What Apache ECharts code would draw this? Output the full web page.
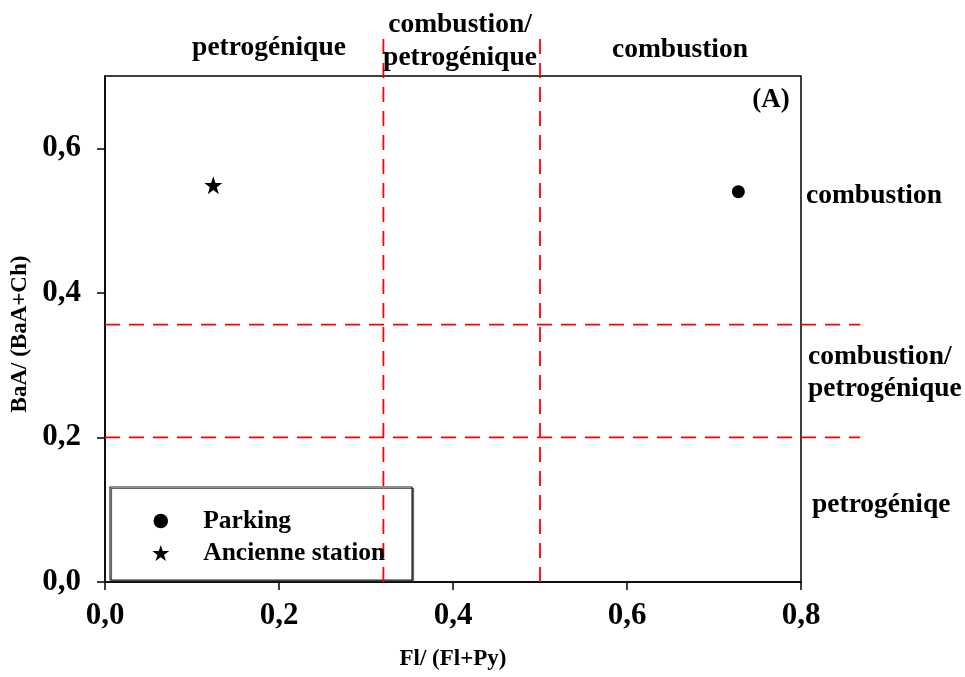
<!DOCTYPE html>
<html><head><meta charset="utf-8">
<script src="https://cdn.jsdelivr.net/npm/echarts@6/dist/echarts.min.js"></script>
<style>html,body{margin:0;padding:0;background:#fff}#c{width:965px;height:677px}</style>
</head><body><div id="c"></div>
<script>
// ---- data ----
const seriesNames = ['Parking', 'Ancienne station'];
const parking = [[0.728, 0.54]];
const ancienneStation = [[0.1245, 0.549]];
const xTicks = [0, 0.2, 0.4, 0.6, 0.8];
const yTicks = [0, 0.2, 0.4, 0.6];
const xRange = [0, 0.8];
const yRange = [0, 0.7];
const vThresholds = [0.32, 0.5];      // Fl/(Fl+Py)
const hThresholds = [0.356, 0.2];     // BaA/(BaA+Ch)
const vLineYExtent = [0, 0.752];
const hLineXExtent = [0, 0.868];
const xTitle = 'Fl/ (Fl+Py)';
const yTitle = 'BaA/ (BaA+Ch)';

const FONT = '"Liberation Serif","Times New Roman",serif';
const STAR = 'path://M50 0L61.2 34.5L97.6 34.5L68.2 55.9L79.4 90.5L50 69.1L20.6 90.5L31.8 55.9L2.4 34.5L38.8 34.5Z';
const fmt = v => v.toFixed(1).replace('.', ',');
const red = '#ff0000';
const dashStyle = {stroke: red, lineWidth: 1.8, lineDash: [15, 9], fill: null};

function txt(text, x, y, align, size) {
  return {type: 'text', x: x, y: y, z: 10,
    style: {text: text, font: 'bold ' + size + 'px ' + FONT, fill: '#000',
      textAlign: align, textVerticalAlign: 'middle'}};
}

const chart = echarts.init(document.getElementById('c'));
chart.setOption({
  animation: false,
  backgroundColor: '#fff',
  grid: {left: 105, right: 164, top: 76, bottom: 95, show: true, borderColor: '#000', borderWidth: 1.5, backgroundColor: 'transparent'},
  xAxis: {
    type: 'value', min: xRange[0], max: xRange[1], interval: 0.2,
    name: xTitle, nameLocation: 'middle', nameGap: 66,
    nameTextStyle: {fontFamily: FONT, fontWeight: 'bold', fontSize: 23, color: '#000'},
    axisLine: {lineStyle: {color: '#000', width: 1.5}},
    axisTick: {show: true, inside: false, length: 8, lineStyle: {color: '#000', width: 1.5}, customValues: xTicks},
    axisLabel: {customValues: xTicks, formatter: fmt, margin: 18, fontFamily: FONT, fontWeight: 'bold', fontSize: 31, color: '#000'},
    splitLine: {show: false}
  },
  yAxis: {
    type: 'value', min: yRange[0], max: yRange[1], interval: 0.2,
    name: yTitle, nameLocation: 'middle', nameGap: 71,
    nameTextStyle: {fontFamily: FONT, fontWeight: 'bold', fontSize: 23, color: '#000', padding: [0, 10, 0, 0]},
    axisLine: {lineStyle: {color: '#000', width: 1.5}},
    axisTick: {show: true, inside: false, length: 8, lineStyle: {color: '#000', width: 1.5}, customValues: yTicks},
    axisLabel: {customValues: yTicks, formatter: fmt, margin: 24, fontFamily: FONT, fontWeight: 'bold', fontSize: 31, color: '#000'},
    splitLine: {show: false}
  },
  legend: {
    orient: 'vertical', left: 146, top: 502, itemGap: 4, itemWidth: 17, itemHeight: 17,
    data: [{name: seriesNames[0], icon: 'circle', itemStyle: {color: '#000', borderColor: '#fff', borderWidth: 2.5}}, {name: seriesNames[1], icon: STAR}],
    textStyle: {fontFamily: FONT, fontWeight: 'bold', fontSize: 25.5, color: '#000', lineHeight: 28, padding: [0, 0, 0, 29]},
    itemStyle: {color: '#000', opacity: 1}
  },
  graphic: [
    {type: 'rect', z: 0, shape: {x: 110, y: 487, width: 302, height: 93},
      style: {fill: '#fff', stroke: '#222', lineWidth: 1.2, shadowColor: '#666', shadowOffsetX: 1.5, shadowOffsetY: 1.5}},
    txt('petrogénique', 269, 48, 'center', 27.5),
    txt('combustion/', 460, 25, 'center', 27.5),
    txt('petrogénique', 460, 58, 'center', 27.5),
    txt('combustion', 680, 50, 'center', 27.5),
    txt('(A)', 771, 100, 'center', 27),
    txt('combustion', 806, 196, 'left', 27.5),
    txt('combustion/', 808, 357, 'left', 27.5),
    txt('petrogénique', 808, 389, 'left', 27.5),
    txt('petrogéniqe', 812, 505, 'left', 27.5)
  ],
  series: [
    {name: seriesNames[0], type: 'scatter', data: parking, symbol: 'circle', symbolSize: 13, itemStyle: {color: '#000', opacity: 1}, z: 5},
    {name: seriesNames[1], type: 'scatter', data: ancienneStation, symbol: STAR, symbolSize: 18, itemStyle: {color: '#000', opacity: 1}, z: 5},
    {type: 'custom', clip: false, silent: true, z: 3, data: vThresholds.map(v => [v]),
      renderItem: (params, api) => {
        const v = api.value(0);
        const a = api.coord([v, vLineYExtent[0]]), b = api.coord([v, vLineYExtent[1]]);
        return {type: 'line', shape: {x1: a[0], y1: a[1], x2: b[0], y2: b[1]}, style: dashStyle};
      }},
    {type: 'custom', clip: false, silent: true, z: 3, data: hThresholds.map(v => [v]),
      renderItem: (params, api) => {
        const v = api.value(0);
        const a = api.coord([hLineXExtent[0], v]), b = api.coord([hLineXExtent[1], v]);
        return {type: 'line', shape: {x1: a[0], y1: a[1], x2: b[0], y2: b[1]}, style: dashStyle};
      }}
  ]
});
</script></body></html>
